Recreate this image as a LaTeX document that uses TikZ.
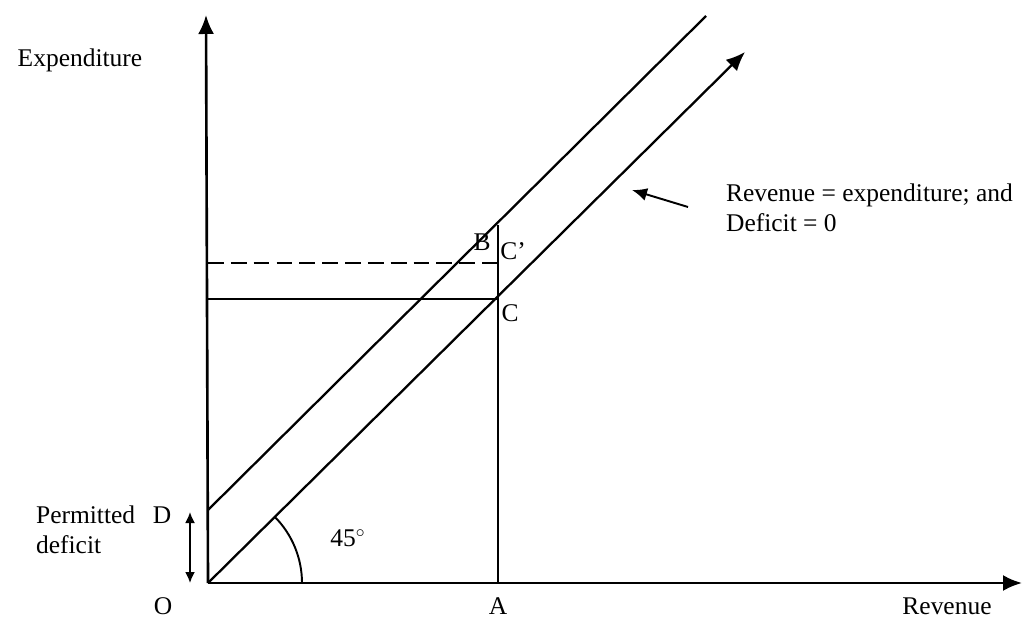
\documentclass[tikz,border=0pt]{standalone}
\usepackage{fontspec}
\setmainfont{Liberation Serif}
\usepackage{tikz}
\usetikzlibrary{arrows.meta, calc}

\begin{document}
\begin{tikzpicture}[
        x=0.02cm, y=0.02cm,
        >={Latex[length=0.38cm, width=0.32cm]}, % Arrow style
        % Define styles
        axis/.style={line width=1.5pt, ->},
        line/.style={line width=1.3pt},
        guide/.style={line width=1.1pt},
        lbl/.style={font=\fontsize{14.5}{17}\selectfont, inner sep=1pt},
        small arrow/.style={line width=1pt, {Latex[length=0.22cm, width=0.2cm]}-{Latex[length=0.22cm, width=0.2cm]}}
    ]
    \useasboundingbox (0,0) rectangle (1026,619);

    % --- Points ---
    \coordinate (O) at (208,36);
    \coordinate (ytip) at (206,604);
    \coordinate (xtip) at (1022,36);
    \coordinate (D) at (208,109);
    \coordinate (Dtop) at (706,603);
    \coordinate (Ltop) at (745,567);
    \coordinate (A) at (498,36);
    \coordinate (B) at (498,394);
    \coordinate (C) at (498,320);
    \coordinate (Cp) at (498,356);
    \coordinate (yC) at (208,320);
    \coordinate (yCp) at (208,356);

    % --- Axes ---
    \draw[axis] (O) -- (ytip);
    \draw[axis] (O) -- (xtip);

    % --- Lines ---
    \draw[line, ->] (O) -- (Ltop);
    \draw[line] (D) -- (Dtop);

    % Guides
    \draw[guide] (A) -- (B);
    \draw[guide] (yC) -- (C);
    \draw[guide, dashed, dash pattern=on 9pt off 4pt] (yCp) -- (Cp);

    % 45 degree arc
    \draw[guide] ($(O)+(94,0)$) arc[start angle=0, end angle=45, radius=94];

    % Permitted deficit arrow
    \coordinate (pd1) at (190,107);
    \coordinate (pd0) at (190,36);
    \draw[small arrow] (pd0) -- (pd1);

    % --- Labels ---
    \node[lbl] (ylabel) at (80,559) {Expenditure};
    \node[lbl] (xlabel) at (947,13) {Revenue};
    \node[lbl] (Olabel) at (163,13) {O};
    \node[lbl] (Alabel) at (498,13) {A};
    \node[lbl] (Blabel) at (482,377) {B};
    \node[lbl] (Cplabel) at (513,368) {C'};
    \node[lbl] (Clabel) at (510,306) {C};
    \node[lbl] (Dlabel) at (162,104) {D};
    \node[lbl] (angle) at (348,81) {45$^{\circ}$};
    \node[lbl, anchor=west] (pd) at (34,104) {Permitted};
    \node[lbl, anchor=west] (pdb) at (34,74) {deficit};
    \node[lbl, anchor=north west, align=left] (note) at (724,437)
        {Revenue = expenditure; and\\Deficit = 0};

    % Pointer to the 45 degree line
    \coordinate (ptail) at (688,412);
    \coordinate (phead) at (632,429);
    \draw[line width=1.1pt, ->, >={Latex[length=0.3cm, width=0.26cm]}] (ptail) -- (phead);

\end{tikzpicture}
\end{document}
